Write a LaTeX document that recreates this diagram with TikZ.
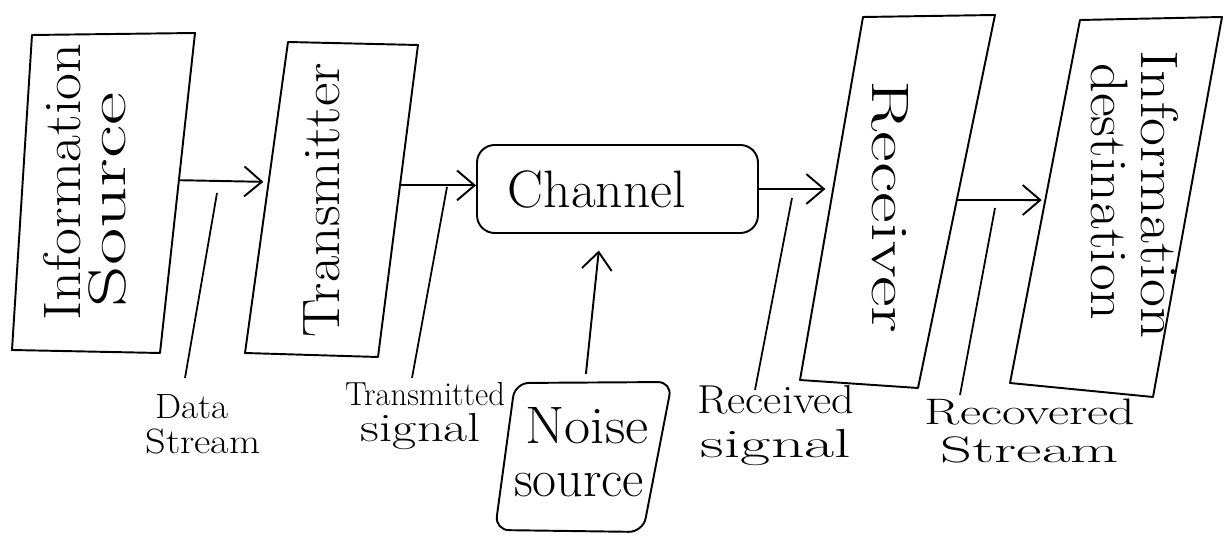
\documentclass[tikz,border=0pt]{standalone}
\usepackage{fontspec}
\usepackage{graphicx}
\usetikzlibrary{arrows.meta,calc}
\newlength\pxu
\setlength\pxu{0.02cm}
\newcommand\fitw[2]{\resizebox{#1\pxu}{\height}{#2}}
\begin{document}
\begin{tikzpicture}[x=0.02cm,y=-0.02cm,
  outline/.style={line width=1.1pt, line join=round},
  flow/.style={line width=1.1pt, -{Straight Barb[length=10pt,width=17pt,line width=1.1pt]}},
  leader/.style={line width=1pt},
  bigtext/.style={inner sep=0pt, font=\fontsize{30}{34}\selectfont},
  lbl/.style={inner sep=0pt, align=center}]
\useasboundingbox (0,0) rectangle (1225,536);

% ---- box outlines (hand-drawn, slightly slanted) ----
\coordinate (s1) at (32,35);   \coordinate (s2) at (195,33);
\coordinate (s3) at (160,353); \coordinate (s4) at (12,350);
\draw[outline] (s1) -- (s2) -- (s3) -- (s4) -- cycle;

\coordinate (t1) at (288,42);  \coordinate (t2) at (418,45);
\coordinate (t3) at (378,357); \coordinate (t4) at (245,353);
\draw[outline] (t1) -- (t2) -- (t3) -- (t4) -- cycle;

\node[outline, draw, rounded corners=10pt, minimum width=5.62cm, minimum height=1.76cm, inner sep=0pt] (ch) at (617.5,189) {};

\coordinate (r1) at (863,17);  \coordinate (r2) at (995,15);
\coordinate (r3) at (918,388); \coordinate (r4) at (800,380);
\draw[outline] (r1) -- (r2) -- (r3) -- (r4) -- cycle;

\coordinate (d1) at (1080,20);  \coordinate (d2) at (1222,17);
\coordinate (d3) at (1153,397); \coordinate (d4) at (1010,383);
\draw[outline] (d1) -- (d2) -- (d3) -- (d4) -- cycle;

\coordinate (n1) at (515,383); \coordinate (n2) at (672,382);
\coordinate (n3) at (643,532); \coordinate (n4) at (495,530);
\draw[outline, rounded corners=8pt] (n1) -- (n2) -- (n3) -- (n4) -- cycle;

% ---- texts in boxes ----
\node[bigtext, rotate=90] (srcA) at (62,182) {\fitw{277}{Information}};
\node[bigtext, rotate=90] (srcB) at (107,200) {\fitw{215}{Source}};
\node[bigtext, rotate=90] (txT) at (322,200) {\fitw{274}{Transmitter}};
\node[bigtext] (chT) at (597,190) {\fitw{178}{Channel}};
\node[bigtext, rotate=-90] (rxT) at (890,207) {\fitw{253}{Receiver}};
\node[bigtext, rotate=-90] (dstA) at (1160,195) {\fitw{288}{Information}};
\node[bigtext, rotate=-90] (dstB) at (1110,192) {\fitw{257}{destination}};
\node[lbl, font=\fontsize{30}{30}\selectfont] (ns) at (579,452)
  {\hspace*{16\pxu}\fitw{123}{Noise}\\\fitw{130}{source}};

% ---- flow arrows ----
\coordinate (srcOut) at ($(s2)!0.46!(s3)$);
\coordinate (txIn)   at ($(t1)!0.45!(t4)$);
\draw[flow, shorten >=3pt] (srcOut) -- (txIn);

\coordinate (txOut) at ($(t2)!0.45!(t3)$);
\draw[flow] (txOut) -- (txOut -| ch.west);

\coordinate (rxIn) at ($(r1)!0.485!(r4)$);
\draw[flow, shorten >=4pt] (ch.east) -- (ch.east -| rxIn);

\coordinate (rxOut) at ($(r2)!0.496!(r3)$);
\coordinate (dstIn) at ($(d1)!0.496!(d4)$);
\draw[flow, shorten >=2pt] (rxOut) -- (dstIn);

\coordinate (nsTop) at ($(n1)!0.446!(n2)$);
\coordinate (chBot) at ($(ch.south west)!0.44!(ch.south east)$);
\draw[flow, shorten <=5pt, shorten >=9.5pt] (nsTop) -- (chBot);

% ---- leader lines and labels ----
\coordinate (dsTop) at (217,193); \coordinate (dsBot) at (185,378);
\draw[leader] (dsTop) -- (dsBot);
\node[lbl, font=\fontsize{20}{20}\selectfont] (ds) at (203,424)
  {\fitw{73}{Data}\hspace*{22\pxu}\\\fitw{115}{Stream}};

\coordinate (tsTop) at (447,187); \coordinate (tsBot) at (412,378);
\draw[leader] (tsTop) -- (tsBot);
\node[lbl, font=\fontsize{23}{21}\selectfont] (ts) at (425,416)
  {{\fontsize{19}{21}\selectfont\fitw{160}{Transmitted}}\\\fitw{120}{signal}\hspace*{8\pxu}};

\coordinate (rsTop) at (792,198); \coordinate (rsBot) at (755,390);
\draw[leader] (rsTop) -- (rsBot);
\node[lbl, font=\fontsize{23}{25}\selectfont] (rs) at (776,426)
  {\fitw{157}{Received}\\\fitw{150}{signal}};

\coordinate (vsTop) at (995,208); \coordinate (vsBot) at (960,395);
\draw[leader] (vsTop) -- (vsBot);
\node[lbl, font=\fontsize{21}{22}\selectfont] (vs) at (1030,431)
  {\fitw{210}{Recovered}\\\fitw{178}{Stream}};
\end{tikzpicture}
\end{document}
